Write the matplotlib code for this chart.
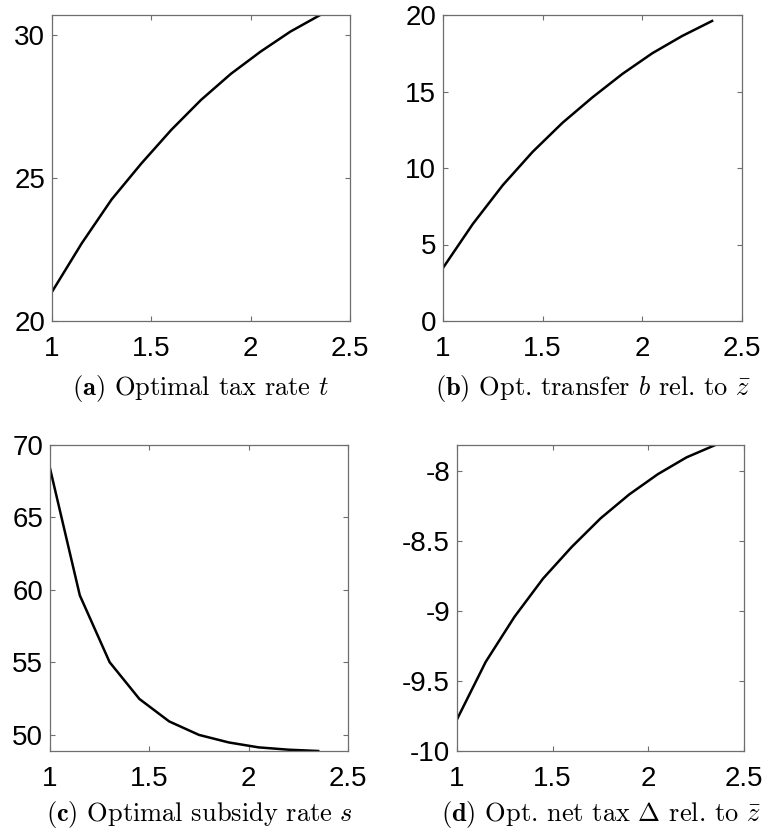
import matplotlib
matplotlib.use("Agg")
import matplotlib.pyplot as plt

x = [1.0, 1.15, 1.3, 1.45, 1.6, 1.75, 1.9, 2.05, 2.2, 2.35]
tax_rate = [21.02, 22.72, 24.25, 25.51, 26.68, 27.73, 28.64, 29.42, 30.12, 30.70]
transfer = [3.47, 6.35, 8.88, 11.06, 12.96, 14.62, 16.15, 17.5, 18.63, 19.61]
subsidy = [68.39, 59.63, 55.02, 52.48, 50.93, 50.0, 49.48, 49.14, 48.98, 48.89]
net_tax = [-9.774, -9.364, -9.043, -8.769, -8.543, -8.34, -8.169, -8.024, -7.904, -7.816]

captions = [r"$\mathbf{(a)}$ Optimal tax rate $t$",
            r"$\mathbf{(b)}$ Opt. transfer $b$ rel. to $\bar{z}$",
            r"$\mathbf{(c)}$ Optimal subsidy rate $s$",
            r"$\mathbf{(d)}$ Opt. net tax $\Delta$ rel. to $\bar{z}$"]
xticks = [1, 1.5, 2, 2.5]
xticklabels = ["1", "1.5", "2", "2.5"]
yticks = [[20, 25, 30], [0, 5, 10, 15, 20], [50, 55, 60, 65, 70], [-10, -9.5, -9, -8.5, -8]]
yticklabels = [["20", "25", "30"], ["0", "5", "10", "15", "20"],
               ["50", "55", "60", "65", "70"], ["-10", "-9.5", "-9", "-8.5", "-8"]]
ylims = [(20, 30.70), (0, 20), (48.89, 70), (-10, -7.816)]
series = [tax_rate, transfer, subsidy, net_tax]

plt.rcParams['mathtext.fontset'] = 'cm'

W, H = 765, 834
fig = plt.figure(figsize=(W / 100, H / 100), dpi=100)
# pixel boxes: left, right, top, bottom
boxes = [(52, 350, 15, 321), (443, 742, 15, 321), (50, 348, 445, 751), (457, 744, 445, 751)]
cap_y = [388, 388, 814, 814]

gray = "#6e6e6e"
for i, (l, r, t, b) in enumerate(boxes):
    ax = fig.add_axes([l / W, 1 - b / H, (r - l) / W, (b - t) / H])
    ax.plot(x, series[i], color="black", lw=1.8)
    ax.set_xlim(1, 2.5)
    ax.set_ylim(*ylims[i])
    ax.set_xticks(xticks)
    ax.set_xticklabels(xticklabels)
    ax.set_yticks(yticks[i])
    ax.set_yticklabels(yticklabels[i])
    for s in ax.spines.values():
        s.set_color(gray)
        s.set_linewidth(0.9)
    ax.tick_params(direction="in", length=3.5, width=0.8, color=gray,
                   top=True, right=True, labelsize=20, labelcolor="black")
    ax.tick_params(axis="x", pad=11)
    ax.tick_params(axis="y", pad=5)
    for lab in ax.get_xticklabels() + ax.get_yticklabels():
        lab.set_fontfamily("Liberation Sans")
    fig.text((l + r) / 2 / W, 1 - cap_y[i] / H, captions[i], ha="center", va="center",
             fontsize=19, family="cmr10")

fig.savefig("out.png", dpi=100)
